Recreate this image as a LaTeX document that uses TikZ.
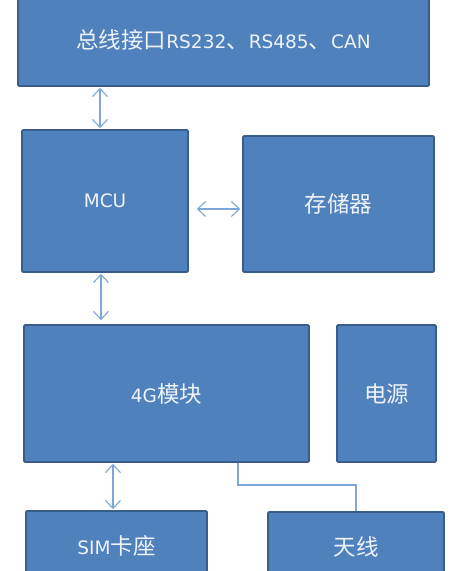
\documentclass[tikz,border=0pt]{standalone}
\usepackage{fontspec}
\setmainfont{DejaVu Sans}
\newfontfamily\cjk{Noto Sans CJK SC}
\usetikzlibrary{arrows.meta}
\definecolor{BlkFill}{HTML}{4F81BD}
\definecolor{BlkEdge}{HTML}{385D8A}
\definecolor{BlkText}{HTML}{EEF3FA}
\definecolor{BlkLink}{HTML}{7EA6D8}
\newcommand{\zh}[1]{{\cjk\fontsize{22.5}{24}\selectfont #1}}
\tikzset{
  blk/box/.style={
    draw=BlkEdge, line width=1.6pt, fill=BlkFill, rounded corners=1pt,
    text=BlkText, font=\fontsize{18.5}{20}\selectfont, inner sep=0pt
  },
  blk/arrow/.style={
    {Straight Barb[length=8pt,width=15pt]}-{Straight Barb[length=8pt,width=15pt]},
    line width=1.1pt, draw=BlkLink
  },
  blk/wire/.style={line width=1.1pt, draw=BlkLink}
}
\begin{document}
\begin{tikzpicture}[x=1pt,y=-1pt]
  \useasboundingbox (0,0) rectangle (458,571);
  \node[blk/box,minimum width=411pt,minimum height=92pt] (bus) at (223.5,40) {\zh{总线接口}RS232\zh{、}RS485\zh{、}CAN};
  \node[blk/box,minimum width=166pt,minimum height=142pt] (mcu) at (105,201) {MCU};
  \node[blk/box,minimum width=191pt,minimum height=136pt] (mem) at (338.5,204) {\zh{存储器}};
  \node[blk/box,minimum width=285pt,minimum height=137pt] (lte) at (166.5,393.5) {4G\zh{模块}};
  \node[blk/box,minimum width=99pt,minimum height=137pt] (pwr) at (386.5,393.5) {\zh{电源}};
  \node[blk/box,minimum width=181pt,minimum height=70pt] (sim) at (116.5,546) {SIM\zh{卡座}};
  \node[blk/box,minimum width=176pt,minimum height=70pt] (ant) at (356,547) {\zh{天线}};
  \draw[blk/arrow] ([xshift=-123.5pt,yshift=-1pt]bus.south) -- ([xshift=-5pt,yshift=1pt]mcu.north);
  \draw[blk/arrow] ([xshift=8pt,yshift=-8pt]mcu.east) -- ([xshift=-2pt,yshift=-5pt]mem.west);
  \draw[blk/arrow] ([xshift=-4pt,yshift=-1pt]mcu.south) -- ([xshift=-65.5pt,yshift=4pt]lte.north);
  \draw[blk/arrow] ([xshift=-53.5pt,yshift=-1pt]lte.south) -- ([xshift=-3.5pt,yshift=1pt]sim.north);
  \coordinate (bend) at (238,485);
  \draw[blk/wire] (lte.south -| bend) -- (bend) -| (ant.north);
\end{tikzpicture}
\end{document}
